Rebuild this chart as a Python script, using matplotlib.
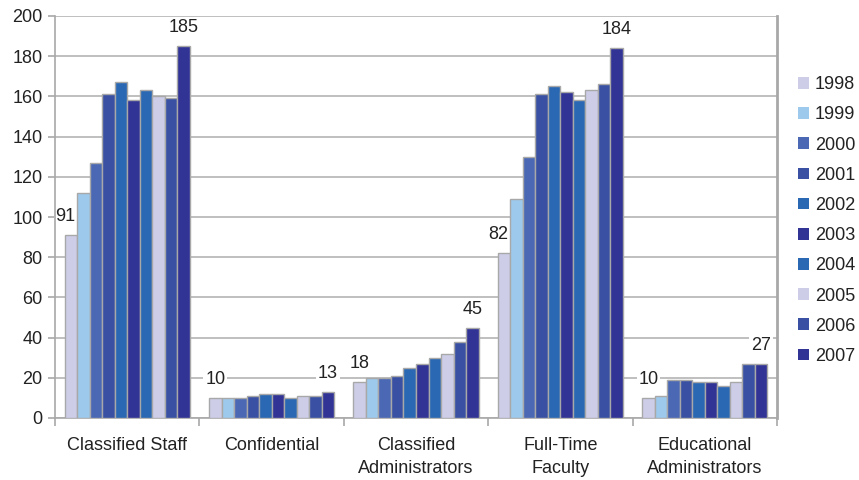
import numpy as np
import matplotlib
matplotlib.use("Agg")
import matplotlib.pyplot as plt
from matplotlib.patches import Patch

plt.rcParams['font.family'] = ['Liberation Sans', 'DejaVu Sans']

categories = ['Classified Staff', 'Confidential', 'Classified\nAdministrators',
              'Full-Time\nFaculty', 'Educational\nAdministrators']
years = ['1998', '1999', '2000', '2001', '2002', '2003', '2004', '2005', '2006', '2007']

# one list per year, values for the five categories
v1998 = [91, 10, 18, 82, 10]
v1999 = [112, 10, 20, 109, 11]
v2000 = [127, 10, 20, 130, 19]
v2001 = [161, 11, 21, 161, 19]
v2002 = [167, 12, 25, 165, 18]
v2003 = [158, 12, 27, 162, 18]
v2004 = [163, 10, 30, 158, 16]
v2005 = [160, 11, 32, 163, 18]
v2006 = [159, 11, 38, 166, 27]
v2007 = [185, 13, 45, 184, 27]
series = [v1998, v1999, v2000, v2001, v2002, v2003, v2004, v2005, v2006, v2007]

colors = ['#CDCDE8', '#9DCAEC', '#4A68B4', '#3A51A3', '#2A68B4',
          '#313395', '#2A68B4', '#CDCDE8', '#3A51A3', '#313395']

fig = plt.figure(figsize=(8.59, 4.8), dpi=100)
ax = fig.add_axes([55 / 859, 1 - 418 / 480, (777 - 55) / 859, (418 - 16) / 480])

x = np.arange(len(categories))
n = len(years)
group = 0.866
w = group / n

for i, (yr, vals) in enumerate(zip(years, series)):
    pos = x - group / 2 + w * (i + 0.5)
    ax.bar(pos, vals, width=w, color=colors[i], edgecolor='#A8A8A8',
           linewidth=1.0, zorder=3)
    # first and last year are labelled
    if i in (0, n - 1):
        for j, (px, v) in enumerate(zip(pos, vals)):
            dx = 0
            if i == 0 and series[1][j] > v + 10:
                dx = -4  # nudge left, clear of the taller neighbour
            ax.annotate(str(v), (px, v), xytext=(dx, 7), textcoords='offset points',
                        ha='center', va='bottom', fontsize=13, color='#222222',
                        bbox=dict(boxstyle='square,pad=0.1', fc='white', ec='none'),
                        zorder=2.5)

ax.set_xlim(-0.5, len(categories) - 0.5)
ax.set_ylim(0, 200)
ax.set_yticks(range(0, 201, 20))
ax.yaxis.grid(True, color='#B4B4B4', linewidth=1.2, zorder=0)
ax.set_axisbelow(True)

ax.set_xticks(x)
ax.set_xticklabels(categories, fontsize=13, color='#222222', linespacing=1.45)
ax.set_xticks(np.arange(-0.5, len(categories) + 0.5, 1), minor=True)
ax.tick_params(axis='x', which='major', length=0, pad=14)
ax.tick_params(axis='x', which='minor', length=6, width=1.2, color='#A8A8A8')
ax.tick_params(axis='y', length=5, width=1.2, color='#A8A8A8', labelsize=13,
               labelcolor='#222222', pad=4)

for s in ['left', 'bottom']:
    ax.spines[s].set_color('#A8A8A8')
    ax.spines[s].set_linewidth(1.2)
ax.spines['right'].set_color('#A8A8A8')
ax.spines['right'].set_linewidth(2)
ax.spines['top'].set_visible(False)

handles = [Patch(facecolor=c, edgecolor='none') for c in colors]
fig.legend(handles, years, loc='upper left', bbox_to_anchor=(782 / 859, 1 - 60 / 480),
           frameon=False, fontsize=13, handlelength=0.62, handleheight=0.62,
           handletextpad=0.3, labelspacing=0.73, labelcolor='#222222')

fig.savefig('out.png', dpi=100)
